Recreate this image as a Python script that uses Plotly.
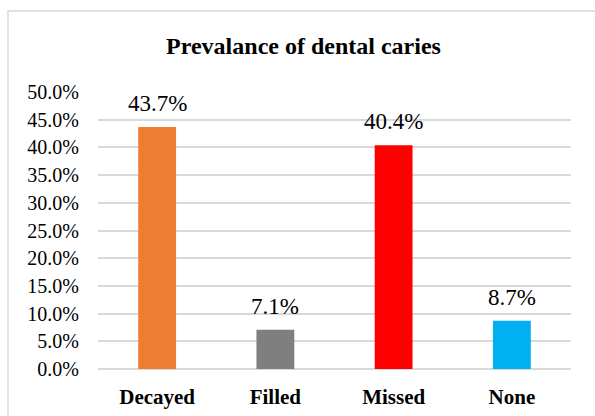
import plotly.graph_objects as go

categories = ["Decayed", "Filled", "Missed", "None"]
values = [43.7, 7.1, 40.4, 8.7]
colors = ["#ED7D31", "#7F7F7F", "#FF0000", "#00B0F0"]
labels = [f"{v:.1f}%" for v in values]
title_text = "Prevalance of dental caries"

serif = "Liberation Serif"

fig = go.Figure(go.Bar(
    x=categories, y=values, marker=dict(color=colors, line=dict(width=0)),
    width=0.32,
))

for c, v, t in zip(categories, values, labels):
    fig.add_annotation(x=c, y=v, text=t, showarrow=False, yanchor="bottom",
                       yshift=9, font=dict(family=serif, size=23, color="#000000"))

L, R, T, B = 98, 24, 92, 47
W, H = 595, 416
pw, ph = W - L - R, H - T - B

fig.add_shape(type="rect", xref="paper", yref="paper",
              x0=(8 - L) / pw, x1=1 + (R + 20) / pw,
              y0=-(B + 20) / ph, y1=1 + (T - 11) / ph,
              line=dict(color="#D9D9D9", width=1.5), fillcolor="rgba(0,0,0,0)")

fig.update_layout(
    width=W, height=H,
    margin=dict(l=L, r=R, t=T, b=B, autoexpand=False),
    paper_bgcolor="white", plot_bgcolor="white",
    showlegend=False,
    font=dict(family=serif, color="#000000"),
    title=dict(text="<b>" + title_text + "</b>", x=303.5 / W, xref="container", xanchor="center",
               y=1 - 46 / H, yanchor="middle",
               font=dict(family=serif, size=24, color="#000000")),
    xaxis=dict(showgrid=False, showline=False, ticks="", automargin=False,
               tickfont=dict(family=serif, size=21, color="#000000"),
               ticklabelstandoff=13,
               tickvals=categories, ticktext=["<b>" + c + "</b>" for c in categories]),
    yaxis=dict(range=[0, 50], dtick=5, tick0=0, tickformat=".1f", ticksuffix="%",
               automargin=False,
               showgrid=True, gridcolor="#D9D9D9", gridwidth=1.5,
               zeroline=True, zerolinecolor="#D9D9D9", zerolinewidth=1.5,
               showline=False, ticks="",
               ticklabelstandoff=18,
               tickfont=dict(family=serif, size=20, color="#000000")),
)

fig.write_html("out.html")
